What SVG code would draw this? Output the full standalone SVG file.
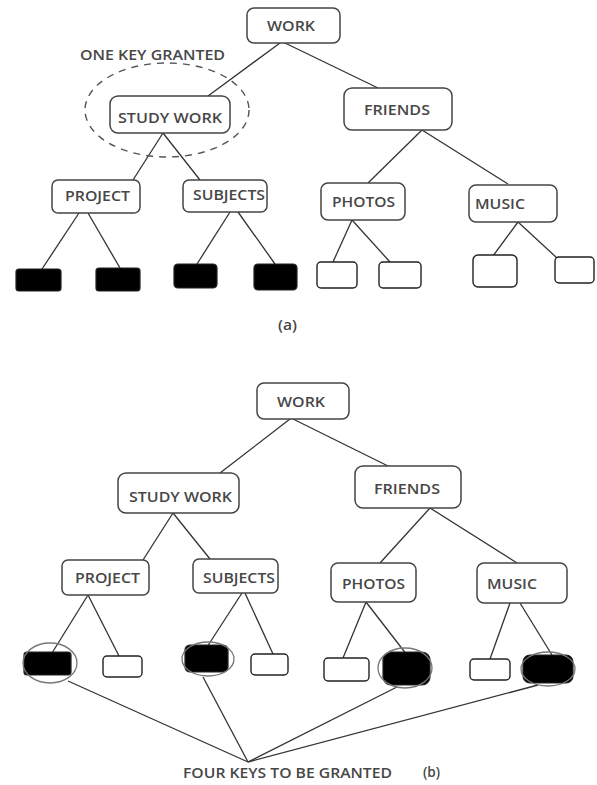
<svg xmlns="http://www.w3.org/2000/svg" width="597" height="785" viewBox="0 0 597 785">
<style>
.box{fill:#fff;stroke:#444;stroke-width:1.5}
.key{fill:#000;stroke:#222;stroke-width:1.2}
.leaf{fill:#fff;stroke:#222;stroke-width:1.4}
.lbl{font-family:"Open Sans","Liberation Sans",sans-serif;font-size:14px;font-weight:600;fill:#474747;dominant-baseline:central}
.cap{font-family:"Open Sans","Liberation Sans",sans-serif;font-size:13.5px;font-weight:600;fill:#474747;dominant-baseline:central}
.ln{stroke:#333;stroke-width:1.3;fill:none}
.ring{fill:none;stroke:#777;stroke-width:1.3}
</style>
<rect width="597" height="785" fill="#fff"/>
<g id="connectors">
<path class="ln" d="M280 43 L208 96"/>
<path class="ln" d="M285 43 L378 88"/>
<path class="ln" d="M163 133 L133 180"/>
<path class="ln" d="M163 133 L200 180"/>
<path class="ln" d="M422 130 L368 183"/>
<path class="ln" d="M422 130 L508 184"/>
<path class="ln" d="M79 213 L42 269"/>
<path class="ln" d="M88 213 L120 268"/>
<path class="ln" d="M230 212 L197 264"/>
<path class="ln" d="M238 212 L275 264"/>
<path class="ln" d="M352 220 L333 262"/>
<path class="ln" d="M352 220 L390 262"/>
<path class="ln" d="M518 222 L493 256"/>
<path class="ln" d="M518 222 L557 258"/>
<path class="ln" d="M290 419 L220 473"/>
<path class="ln" d="M293 419 L388 466"/>
<path class="ln" d="M173 513 L143 560"/>
<path class="ln" d="M173 513 L210 559"/>
<path class="ln" d="M430 508 L380 563"/>
<path class="ln" d="M430 508 L517 563"/>
<path class="ln" d="M88 595 L52 653"/>
<path class="ln" d="M88 595 L119 656"/>
<path class="ln" d="M242 593 L207 647"/>
<path class="ln" d="M245 593 L273 654"/>
<path class="ln" d="M366 602 L343 658"/>
<path class="ln" d="M366 602 L407 655"/>
<path class="ln" d="M510 603 L490 659"/>
<path class="ln" d="M520 603 L552 655"/>
<path class="ln" d="M68 681 L248 762"/>
<path class="ln" d="M203 677 L248 762"/>
<path class="ln" d="M397 687 L248 762"/>
<path class="ln" d="M538 685 L248 762"/>
</g>
<g id="a-work"><rect class="box" x="247" y="8" width="93" height="35" rx="7"/><text class="lbl" x="267" y="25" textLength="48" lengthAdjust="spacingAndGlyphs">WORK</text></g>
<g id="a-onekey"><text class="cap" x="80" y="55" textLength="145" lengthAdjust="spacingAndGlyphs">ONE KEY GRANTED</text>
<ellipse cx="167" cy="110" rx="82" ry="47" fill="none" stroke="#555" stroke-width="1.4" stroke-dasharray="7 6"/></g>
<g id="a-studywork"><rect class="box" x="110" y="96" width="120" height="37" rx="8"/><text class="lbl" x="118" y="117" textLength="104" lengthAdjust="spacingAndGlyphs">STUDY WORK</text></g>
<g id="a-friends"><rect class="box" x="344" y="88" width="108" height="42" rx="8"/><text class="lbl" x="364" y="109" textLength="66" lengthAdjust="spacingAndGlyphs">FRIENDS</text></g>
<g id="a-project"><rect class="box" x="52" y="180" width="88" height="33" rx="6"/><text class="lbl" x="65" y="195" textLength="65" lengthAdjust="spacingAndGlyphs">PROJECT</text></g>
<g id="a-subjects"><rect class="box" x="183" y="180" width="84" height="32" rx="6"/><text class="lbl" x="193" y="194" textLength="72" lengthAdjust="spacingAndGlyphs">SUBJECTS</text></g>
<g id="a-photos"><rect class="box" x="321" y="183" width="84" height="37" rx="7"/><text class="lbl" x="332" y="201" textLength="63" lengthAdjust="spacingAndGlyphs">PHOTOS</text></g>
<g id="a-music"><rect class="box" x="469" y="185" width="88" height="37" rx="7"/><text class="lbl" x="475" y="203" textLength="50" lengthAdjust="spacingAndGlyphs">MUSIC</text></g>
<g id="a-leaf1"><rect class="key" x="16" y="269" width="45" height="22" rx="3"/></g>
<g id="a-leaf2"><rect class="key" x="96" y="268" width="44" height="23" rx="3"/></g>
<g id="a-leaf3"><rect class="key" x="174" y="264" width="43" height="24" rx="4"/></g>
<g id="a-leaf4"><rect class="key" x="254" y="264" width="43" height="26" rx="4"/></g>
<g id="a-leaf5"><rect class="leaf" x="317" y="262" width="40" height="26" rx="4"/></g>
<g id="a-leaf6"><rect class="leaf" x="379" y="262" width="42" height="26" rx="4"/></g>
<g id="a-leaf7"><rect class="leaf" x="473" y="255" width="44" height="32" rx="5"/></g>
<g id="a-leaf8"><rect class="leaf" x="555" y="257" width="39" height="26" rx="4"/></g>
<g id="a-caption"><text class="cap" x="278" y="325" textLength="19" lengthAdjust="spacingAndGlyphs">(a)</text></g>
<g id="b-work"><rect class="box" x="257" y="383" width="92" height="36" rx="7"/><text class="lbl" x="277" y="401" textLength="48" lengthAdjust="spacingAndGlyphs">WORK</text></g>
<g id="b-studywork"><rect class="box" x="118" y="473" width="121" height="40" rx="8"/><text class="lbl" x="129" y="496" textLength="103" lengthAdjust="spacingAndGlyphs">STUDY WORK</text></g>
<g id="b-friends"><rect class="box" x="355" y="466" width="106" height="42" rx="8"/><text class="lbl" x="374" y="488" textLength="66" lengthAdjust="spacingAndGlyphs">FRIENDS</text></g>
<g id="b-project"><rect class="box" x="62" y="560" width="87" height="35" rx="6"/><text class="lbl" x="75" y="577" textLength="65" lengthAdjust="spacingAndGlyphs">PROJECT</text></g>
<g id="b-subjects"><rect class="box" x="193" y="559" width="85" height="34" rx="6"/><text class="lbl" x="203" y="577" textLength="72" lengthAdjust="spacingAndGlyphs">SUBJECTS</text></g>
<g id="b-photos"><rect class="box" x="331" y="563" width="85" height="39" rx="7"/><text class="lbl" x="342" y="583" textLength="63" lengthAdjust="spacingAndGlyphs">PHOTOS</text></g>
<g id="b-music"><rect class="box" x="477" y="563" width="90" height="40" rx="7"/><text class="lbl" x="487" y="583" textLength="50" lengthAdjust="spacingAndGlyphs">MUSIC</text></g>
<g id="b-leaf1"><rect class="key" x="24" y="652" width="47" height="23" rx="3"/><ellipse class="ring" cx="50" cy="663" rx="27" ry="20"/></g>
<g id="b-leaf2"><rect class="leaf" x="103" y="656" width="39" height="21" rx="4"/></g>
<g id="b-leaf3"><rect class="key" x="185" y="645" width="43" height="27" rx="5"/><ellipse class="ring" cx="208" cy="659" rx="26" ry="17"/></g>
<g id="b-leaf4"><rect class="leaf" x="251" y="654" width="37" height="21" rx="4"/></g>
<g id="b-leaf5"><rect class="leaf" x="324" y="658" width="45" height="23" rx="4"/></g>
<g id="b-leaf6"><rect class="key" x="383" y="652" width="47" height="33" rx="8"/><ellipse class="ring" cx="405" cy="668" rx="27" ry="20"/></g>
<g id="b-leaf7"><rect class="leaf" x="470" y="659" width="40" height="21" rx="4"/></g>
<g id="b-leaf8"><rect class="key" x="523" y="655" width="50" height="28" rx="7"/><ellipse class="ring" cx="548" cy="669" rx="27" ry="17"/></g>
<g id="b-caption"><text class="cap" x="183" y="773" textLength="209" lengthAdjust="spacingAndGlyphs">FOUR KEYS TO BE GRANTED</text><text class="cap" x="423" y="772" textLength="17" lengthAdjust="spacingAndGlyphs">(b)</text></g>
</svg>
